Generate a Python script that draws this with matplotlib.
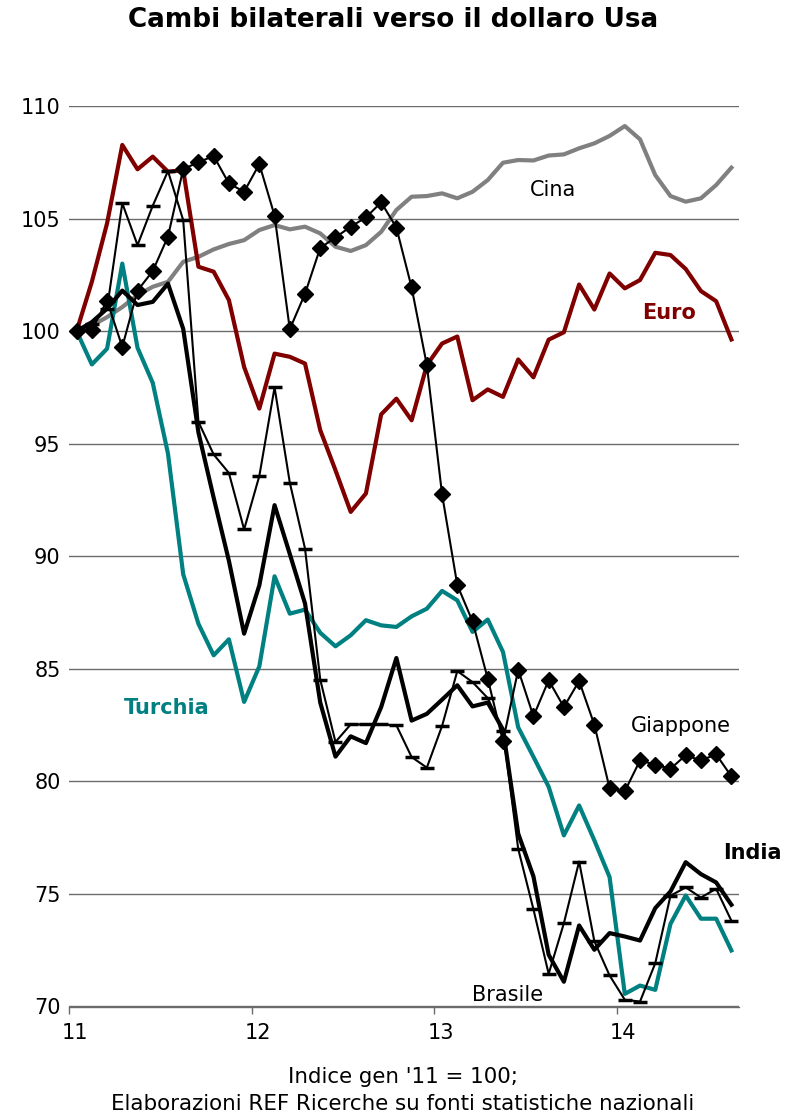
import numpy as np
import matplotlib
matplotlib.use("Agg")
import matplotlib.pyplot as plt

# ---- data (monthly index, Jan 2011 = 100) ----
year_labels = ['11', '12', '13', '14']

cina = [100.0, 100.25, 100.62, 101.07, 101.6, 101.97, 102.19, 103.08, 103.3, 103.63,
        103.87, 104.04, 104.49, 104.71, 104.52, 104.64, 104.34, 103.75, 103.56, 103.82,
        104.41, 105.38, 105.97, 106.0, 106.12, 105.9, 106.19, 106.71, 107.48, 107.6,
        107.58, 107.8, 107.85, 108.12, 108.34, 108.67, 109.11, 108.52, 106.93, 106.0,
        105.75, 105.9, 106.49, 107.26]

euro = [100.0, 102.19, 104.79, 108.27, 107.19, 107.75, 107.08, 107.15, 102.86, 102.64,
        101.38, 98.41, 96.56, 99.0, 98.86, 98.56, 95.6, 93.82, 91.97, 92.79,
        96.3, 97.0, 96.04, 98.49, 99.45, 99.76, 96.93, 97.41, 97.08, 98.74,
        97.95, 99.62, 99.95, 102.07, 100.96, 102.56, 101.9, 102.27, 103.48, 103.38,
        102.76, 101.78, 101.33, 99.63]

turchia = [100.0, 98.52, 99.22, 103.0, 99.26, 97.7, 94.56, 89.2, 87.0, 85.6,
           86.31, 83.53, 85.11, 89.11, 87.45, 87.63, 86.6, 86.0, 86.49, 87.16,
           86.93, 86.86, 87.33, 87.67, 88.46, 88.04, 86.64, 87.19, 85.75, 82.4,
           81.09, 79.76, 77.6, 78.93, 77.38, 75.75, 70.56, 70.93, 70.74, 73.67,
           74.93, 73.9, 73.9, 72.49]

giappone = [100.0, 100.06, 101.35, 99.3, 101.8, 102.67, 104.2, 107.2, 107.5, 107.78,
            106.56, 106.19, 107.42, 105.13, 100.09, 101.66, 103.7, 104.16, 104.64, 105.05,
            105.72, 104.6, 101.94, 98.49, 92.75, 88.72, 87.11, 84.56, 81.78, 84.96,
            82.89, 84.49, 83.3, 84.46, 82.52, 79.7, 79.56, 80.93, 80.74, 80.56,
            81.16, 80.93, 81.2, 80.22]

india = [100.0, 100.4, 101.0, 101.8, 101.16, 101.3, 102.11, 100.1, 95.5, 92.6,
         89.8, 86.56, 88.71, 92.27, 90.1, 87.9, 83.5, 81.1, 82.0, 81.7,
         83.3, 85.48, 82.7, 83.0, 83.63, 84.27, 83.33, 83.5, 82.3, 77.68,
         75.78, 72.3, 71.1, 73.6, 72.52, 73.26, 73.11, 72.93, 74.37, 75.11,
         76.41, 75.88, 75.51, 74.52]

brasile = [100.0, 100.3, 101.0, 105.68, 103.82, 105.57, 107.11, 104.93, 95.97, 94.52,
           93.7, 91.19, 93.57, 97.5, 93.27, 90.34, 84.52, 81.75, 82.53, 82.53,
           82.53, 82.49, 81.08, 80.61, 82.46, 84.9, 84.41, 83.7, 82.24, 77.0,
           74.32, 71.45, 73.7, 76.44, 72.9, 71.38, 70.3, 70.22, 71.92, 74.92,
           75.29, 74.84, 75.23, 73.81]

# ---- figure ----
W, H = 786, 1115
fig = plt.figure(figsize=(W / 100, H / 100), dpi=100)
ax = fig.add_axes([69 / W, 1 - 1006.5 / H, (739 - 69) / W, (1006.5 - 106) / H])

x = np.arange(len(cina))

ax.plot(x, cina, color='#808080', lw=3.0, solid_joinstyle='round', zorder=3)
ax.plot(x, euro, color='#800000', lw=3.0, solid_joinstyle='round', zorder=3)
ax.plot(x, turchia, color='#008080', lw=3.0, solid_joinstyle='round', zorder=3)
ax.plot(x, india, color='black', lw=3.0, solid_joinstyle='round', zorder=4)
ax.plot(x, brasile, color='black', lw=1.5, marker='_', ms=10, mew=2.5, zorder=5)
ax.plot(x, giappone, color='black', lw=1.5, marker='D', ms=8.5, zorder=6)

ax.set_xlim(-0.5, len(cina) - 0.5)
ax.set_ylim(70, 110)

# grid
ax.set_yticks(np.arange(70, 111, 5))
ax.yaxis.grid(True, color='#6b6b6b', lw=1.0)
ax.set_axisbelow(True)
ax.tick_params(axis='y', length=0, pad=6, labelsize=15)

for s in ['top', 'right', 'left']:
    ax.spines[s].set_visible(False)
ax.spines['bottom'].set_color('#6b6b6b')
ax.spines['bottom'].set_linewidth(1.0)

# x ticks: marks at year boundaries, labels just right of them
bounds = np.arange(-0.5, len(cina), 12)
ax.set_xticks(bounds, minor=True)
ax.tick_params(axis='x', which='minor', length=5, width=1.0, color='#6b6b6b', direction='out')
ax.set_xticks(bounds + 0.4)
ax.set_xticklabels(year_labels)
ax.tick_params(axis='x', which='major', length=0, pad=12, labelsize=15)

# series labels
fs = 15
ax.text(31.3, 106.27, 'Cina', fontsize=fs, color='black', ha='center', va='center')
ax.text(38.9, 100.8, 'Euro', fontsize=fs, color='#800000', fontweight='bold', ha='center', va='center')
ax.text(5.9, 83.24, 'Turchia', fontsize=fs, color='#008080', fontweight='bold', ha='center', va='center')
ax.text(39.7, 82.44, 'Giappone', fontsize=fs, color='black', ha='center', va='center')
ax.text(44.4, 76.84, 'India', fontsize=fs, color='black', fontweight='bold', ha='center', va='center')
ax.text(28.3, 70.49, 'Brasile', fontsize=fs, color='black', ha='center', va='center')

fig.text(0.5, 1 - 20 / H, 'Cambi bilaterali verso il dollaro Usa', fontsize=18.9,
         fontweight='bold', ha='center', va='center')
fig.text(403 / W, 1 - 1077 / H, "Indice gen '11 = 100;", fontsize=15.4, ha='center', va='center')
fig.text(403 / W, 1 - 1104 / H, 'Elaborazioni REF Ricerche su fonti statistiche nazionali',
         fontsize=15.4, ha='center', va='center')

fig.savefig('out.png', dpi=100)
